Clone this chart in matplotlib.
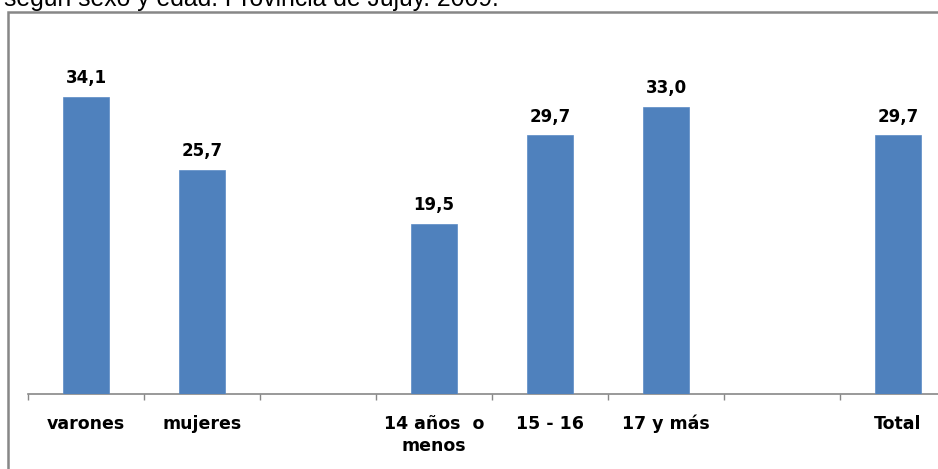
import matplotlib
matplotlib.use("Agg")
import matplotlib.pyplot as plt
from matplotlib.patches import Rectangle

categories = ["varones", "mujeres", "", "14 años  o\nmenos", "15 - 16", "17 y más", "", "Total"]
values = [34.1, 25.7, None, 19.5, 29.7, 33.0, None, 29.7]
value_labels = ["34,1", "25,7", "", "19,5", "29,7", "33,0", "", "29,7"]
title_text = "según sexo y edad. Provincia de Jujuy. 2009."

W, H = 938, 469
fig = plt.figure(figsize=(W / 100, H / 100), dpi=100)

# title (its upper part lies above the picture, as in the reference)
fig.text(4 / W, 1 - 6 / H, title_text, fontsize=17.8, family="Liberation Sans",
         va="baseline", ha="left", color="black")

# outer frame (extends beyond right/bottom edges)
top = 1 - 12 / H
fig.patches.append(Rectangle((8 / W, -0.2), 1.2, top + 0.2, transform=fig.transFigure,
                             fill=False, edgecolor="#878787", linewidth=1.8, zorder=0))

ax = fig.add_axes([28 / W, 75 / H, 928 / W, 348.4 / H])
ax.set_facecolor("none")
xs = [i for i, v in enumerate(values) if v is not None]
vals = [v for v in values if v is not None]
ax.bar(xs, vals, width=0.4, color="#4F81BD", edgecolor="#5B8BC6", linewidth=0.5, zorder=3)
for x, v in zip(xs, vals):
    ax.annotate(value_labels[x], (x, v), xytext=(0, 7), textcoords="offset points",
                ha="center", va="bottom", fontsize=12, fontweight="bold", color="black")

ax.set_xlim(-0.5, len(categories) - 0.5)
ax.set_ylim(0, 40)
ax.set_xticks(range(len(categories)))
ax.set_xticklabels(categories, fontsize=12.5, fontweight="bold", color="black",
                   linespacing=1.3)
ax.tick_params(axis="x", which="major", length=0, pad=15)
ax.set_xticks([i - 0.5 for i in range(len(categories) + 1)], minor=True)
ax.tick_params(axis="x", which="minor", length=4, width=1, color="#878787", direction="out")
ax.set_yticks([])
for s in ["top", "right", "left"]:
    ax.spines[s].set_visible(False)
ax.spines["bottom"].set_color("#878787")
ax.spines["bottom"].set_linewidth(1.2)

fig.savefig("out.png", dpi=100)
